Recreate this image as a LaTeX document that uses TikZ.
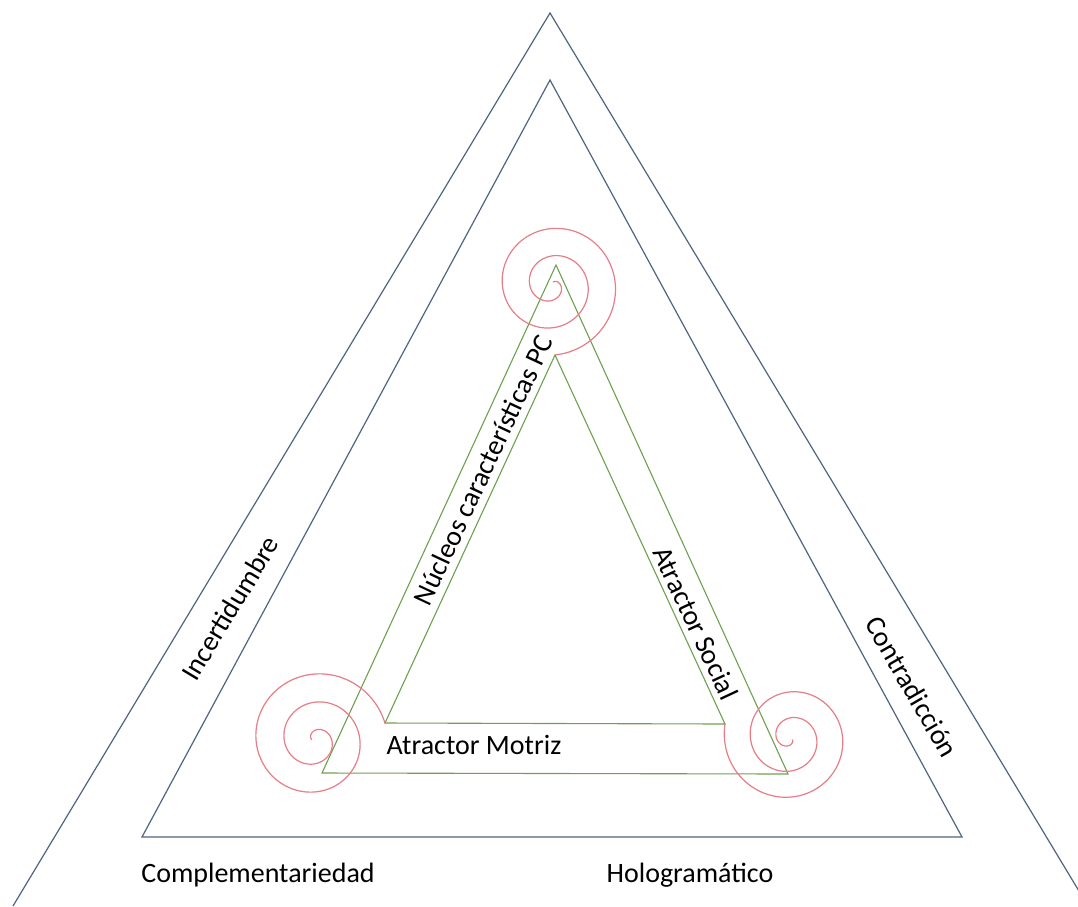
\documentclass[tikz,border=0pt]{standalone}
\usepackage{fontspec}
\setmainfont{Carlito}
\definecolor{lineablue}{RGB}{80,100,130}
\definecolor{lineagreen}{RGB}{110,160,80}
\definecolor{espred}{RGB}{230,125,135}

\tikzset{
  banda/.style={draw=lineablue, line width=1.2pt},
  nucleo/.style={draw=lineagreen, line width=1.1pt},
  espiral/.style={draw=espred, line width=1.2pt},
  rotulo/.style={inner sep=0pt, font=\fontsize{28}{33}\selectfont},
}
% #1,#2 centre, #3 end angle, #4 end radius
\newcommand{\espiral}[4]{%
  \begin{scope}[shift={(#1,#2)}, yscale=-1]
    \draw[espiral] plot[domain=0:880, samples=300, smooth] ({#3+\x}:{#4*(1-\x/920)});
  \end{scope}
}

\begin{document}
\begin{tikzpicture}[x=1pt, y=-1pt]
    \useasboundingbox (0,0) rectangle (1078,906);
    \clip (0,0) rectangle (1078,906);

    \coordinate (OT) at (550,13);
    \coordinate (OL) at (13,906);
    \coordinate (OR) at (1088,906);
    \coordinate (IT) at (550,80);
    \coordinate (IL) at (142,837);
    \coordinate (IR) at (962,837);
    \coordinate (GT) at (556,265);
    \coordinate (GL) at (322,773);
    \coordinate (GR) at (788,774);
    \coordinate (HT) at (555,355);
    \coordinate (HL) at (385,723);
    \coordinate (HR) at (725,724);

    \draw[banda] (OL) -- (OT) -- (OR);
    \draw[banda] (IT) -- (IL) -- (IR) -- cycle;
    \draw[nucleo] (GT) -- (GL) -- (GR) -- cycle;
    \draw[nucleo] (HT) -- (HL) -- (HR) -- cycle;

    \espiral{552}{285}{-87.5}{70}
    \espiral{315}{740}{13.6}{72}
    \espiral{790}{738}{167.8}{66.5}

    \node[rotulo, rotate=59] (incert) at (230,608) {Incertidumbre};
    \node[rotulo, rotate=-60] (contra) at (912,687) {Contradicción};
    \node[rotulo, rotate=65] (nucleos) at (483,470) {Núcleos características PC};
    \node[rotulo, rotate=-65] (social) at (696,623) {Atractor Social};
    \node[rotulo] (motriz) at (474,745) {Atractor Motriz};
    \node[rotulo] (compl) at (258,875) {Complementariedad};
    \node[rotulo] (holo) at (690,875) {Hologramático};
\end{tikzpicture}
\end{document}
